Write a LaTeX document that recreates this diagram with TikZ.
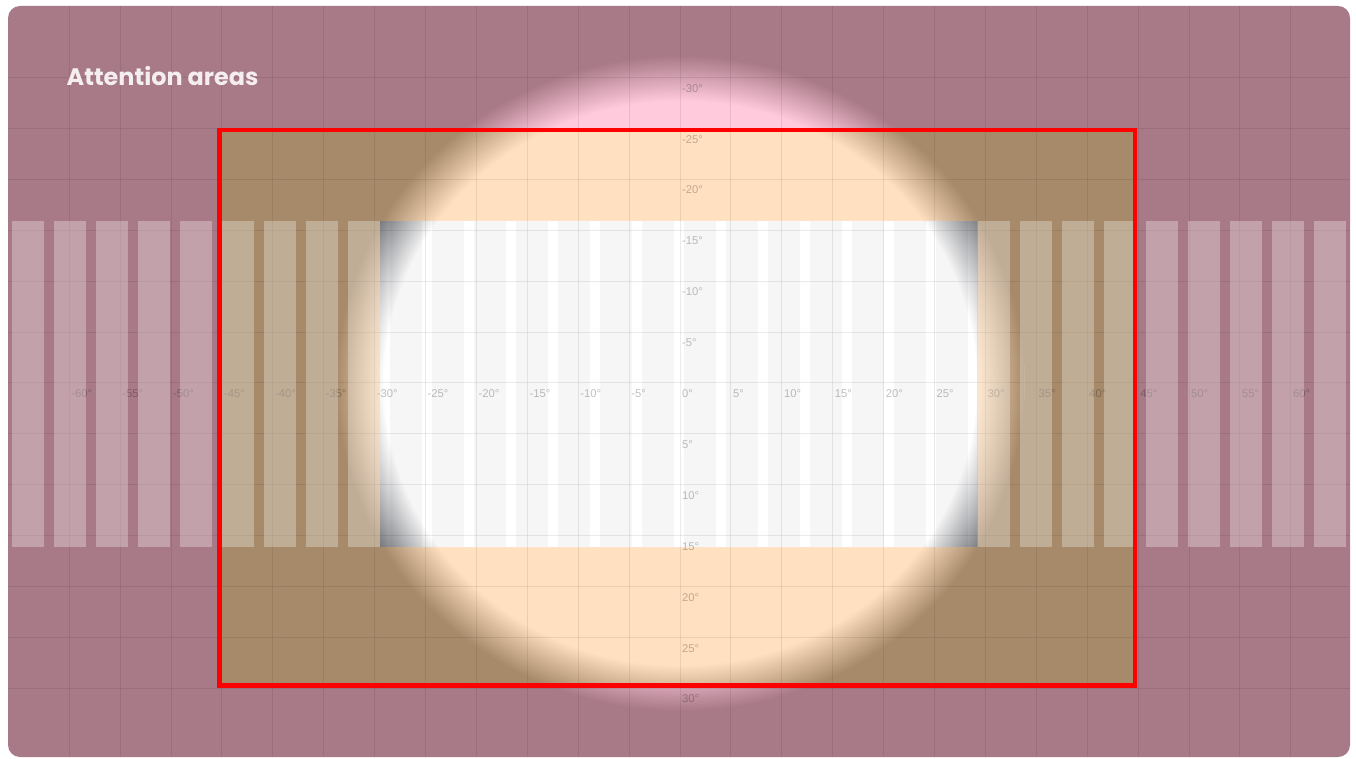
\documentclass[tikz,border=0pt]{standalone}
\usepackage{fontspec}
\newfontfamily\titlefont{Poppins}
\newfontfamily\labelfont{Liberation Sans}
\usetikzlibrary{fadings}

\definecolor{mauve}{HTML}{A87987}
\definecolor{mauvelight}{HTML}{FFCADC}
\definecolor{areabrown}{HTML}{A68A6A}
\definecolor{areapeach}{HTML}{FFE0C0}
\definecolor{midgray}{HTML}{7A7C81}
\definecolor{titlewhite}{HTML}{F4EEF0}

% soft round spot of light, 100bp ~ 35mm
\pgfdeclareradialshading{spotshade}{\pgfpointorigin}{%
  color(0bp)=(pgftransparent!0); color(80bp)=(pgftransparent!0);
  color(86.5bp)=(pgftransparent!50); color(93bp)=(pgftransparent!100)}
\pgfdeclarefading{spot}{\pgfuseshading{spotshade}}

\begin{document}
\begin{tikzpicture}[x=0.1mm,y=-0.1mm,
  gridline/.style={black,opacity=0.08,line width=0.1mm},
  deg/.style={font=\labelfont\fontsize{3.2}{3.8}\selectfont,text=black,text opacity=0.25,anchor=north west,inner sep=0pt},
  stripe/.style={white,opacity=0.3},
  midstripe/.style={black,opacity=0.035}]
\useasboundingbox (0,0) rectangle (1356,759);

% dark layer
\fill[mauve,rounded corners=1.2mm] (8,6) rectangle (1350,757);
\fill[areabrown] (220,130) rectangle (1135,686);
\fill[midgray] (380,221) rectangle (977,547);

% light layer, only inside the spot
\begin{scope}
\pgfsetfading{spot}{\pgftransformshift{\pgfpoint{68mm}{-38.3mm}}\pgftransformxscale{1.05}}
\begin{scope}[transparency group]
\fill[mauvelight,rounded corners=1.2mm] (8,6) rectangle (1350,757);
\fill[areapeach] (220,130) rectangle (1135,686);
\fill[white] (380,221) rectangle (977,547);
\end{scope}
\end{scope}

% grid, 5 degrees a cell
\begin{scope}
\clip[rounded corners=1.2mm] (8,6) rectangle (1350,757);
\foreach \i in {-12,...,12}
  \draw[gridline] (680+50.9*\i,6) -- (680+50.9*\i,757);
\foreach \j in {-6,...,6}
  \draw[gridline] (8,383+50.9*\j) -- (1350,383+50.9*\j);
\end{scope}

\foreach \d [count=\n] in {-60,-55,...,60}
  \node[deg] (h\n) at (681.5+10.18*\d,389) {\d°};
\foreach \d [count=\n] in {-30,-25,...,-5,5,10,...,30}
  \node[deg] (v\n) at (681.5,389+10.18*\d) {\d°};

% stripes over the band
\foreach \k in {0,...,8}
  \fill[stripe] (12+42*\k,221) rectangle (44+42*\k,547);
\foreach \k in {23,...,31}
  \fill[stripe] (12+42*\k,221) rectangle (44+42*\k,547);
\foreach \k in {9,...,22}
  \fill[midstripe] (12+42*\k,221) rectangle (44+42*\k,547);

\draw[red,line width=0.45mm] (219.5,130) rectangle (1135,685.5);

\node[anchor=base west,inner sep=0pt,text=titlewhite,font=\titlefont\bfseries\fontsize{6.8}{8}\selectfont] (title) at (66,86) {Attention areas};
\end{tikzpicture}
\end{document}
